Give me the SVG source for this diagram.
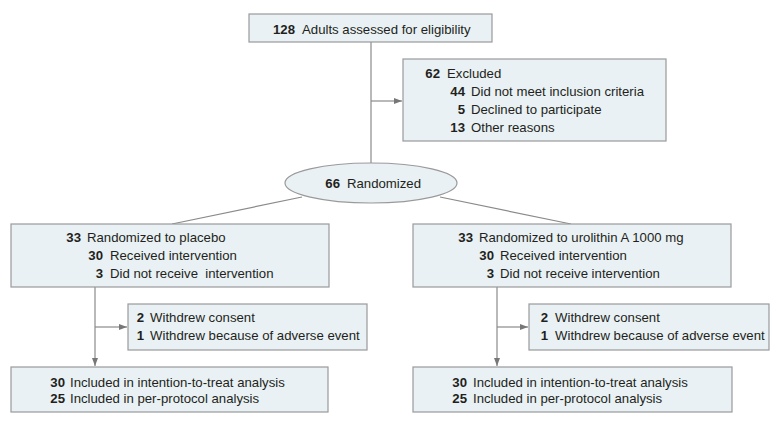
<svg xmlns="http://www.w3.org/2000/svg" width="780" height="425" viewBox="0 0 780 425">
<defs>
<marker id="ah" markerWidth="8" markerHeight="6" refX="8" refY="3" orient="auto" markerUnits="userSpaceOnUse">
<path d="M0,0 L8,3 L0,6 Z" fill="#777"/>
</marker>
<style>
.box{fill:#e9f1f4;stroke:#9a9a9a;stroke-width:1.2}
.ln{stroke:#8a8a8a;stroke-width:1.2;fill:none}
text{font-family:"Liberation Sans",Arial,sans-serif;font-size:13.2px;fill:#231f20}
.n{font-weight:bold;text-anchor:end}
</style>
</defs>
<rect width="780" height="425" fill="#fff"/>
<g id="connectors">
<line class="ln" x1="371" y1="42" x2="371" y2="163"/>
<line class="ln" x1="371" y1="101" x2="402" y2="101" marker-end="url(#ah)"/>
<line class="ln" x1="302" y1="197" x2="172" y2="224"/>
<line class="ln" x1="440" y1="197" x2="571" y2="224"/>
<line class="ln" x1="95" y1="287" x2="95" y2="366" marker-end="url(#ah)"/>
<line class="ln" x1="95" y1="327" x2="127" y2="327" marker-end="url(#ah)"/>
<line class="ln" x1="497" y1="287" x2="497" y2="366" marker-end="url(#ah)"/>
<line class="ln" x1="497" y1="327" x2="528" y2="327" marker-end="url(#ah)"/>
</g>
<g id="assessed">
<rect class="box" x="249" y="14" width="243" height="28"/>
<text class="n" x="295" y="34">128</text>
<text x="302" y="34">Adults assessed for eligibility</text>
</g>
<g id="excluded">
<rect class="box" x="403" y="59" width="263" height="82"/>
<text class="n" x="440" y="78">62</text>
<text x="447" y="78">Excluded</text>
<text class="n" x="465" y="96">44</text>
<text x="471" y="96">Did not meet inclusion criteria</text>
<text class="n" x="465" y="114">5</text>
<text x="471" y="114">Declined to participate</text>
<text class="n" x="465" y="132">13</text>
<text x="471" y="132">Other reasons</text>
</g>
<g id="randomized">
<ellipse class="box" cx="371" cy="183" rx="86" ry="20"/>
<text class="n" x="340" y="188">66</text>
<text x="347" y="188">Randomized</text>
</g>
<g id="placebo">
<rect class="box" x="11" y="224" width="318" height="63"/>
<text class="n" x="81" y="242">33</text>
<text x="87" y="242">Randomized to placebo</text>
<text class="n" x="103" y="260">30</text>
<text x="110" y="260">Received intervention</text>
<text class="n" x="103" y="278">3</text>
<text x="110" y="278" xml:space="preserve">Did not receive  intervention</text>
</g>
<g id="urolithin">
<rect class="box" x="413" y="224" width="318" height="63"/>
<text class="n" x="473" y="242">33</text>
<text x="479" y="242">Randomized to urolithin A 1000 mg</text>
<text class="n" x="494" y="260">30</text>
<text x="500" y="260">Received intervention</text>
<text class="n" x="494" y="278">3</text>
<text x="500" y="278">Did not receive intervention</text>
</g>
<g id="withdrew-placebo">
<rect class="box" x="128" y="304" width="239" height="46"/>
<text class="n" x="144" y="322">2</text>
<text x="150" y="322">Withdrew consent</text>
<text class="n" x="144" y="340">1</text>
<text x="150" y="340">Withdrew because of adverse event</text>
</g>
<g id="withdrew-urolithin">
<rect class="box" x="529" y="304" width="240" height="46"/>
<text class="n" x="548" y="322">2</text>
<text x="555" y="322">Withdrew consent</text>
<text class="n" x="548" y="340">1</text>
<text x="555" y="340">Withdrew because of adverse event</text>
</g>
<g id="analysis-placebo">
<rect class="box" x="11" y="367" width="317" height="45"/>
<text class="n" x="65" y="387">30</text>
<text x="70" y="387">Included in intention-to-treat analysis</text>
<text class="n" x="65" y="403">25</text>
<text x="70" y="403">Included in per-protocol analysis</text>
</g>
<g id="analysis-urolithin">
<rect class="box" x="413" y="367" width="319" height="45"/>
<text class="n" x="467" y="387">30</text>
<text x="473" y="387">Included in intention-to-treat analysis</text>
<text class="n" x="467" y="403">25</text>
<text x="473" y="403">Included in per-protocol analysis</text>
</g>
</svg>
